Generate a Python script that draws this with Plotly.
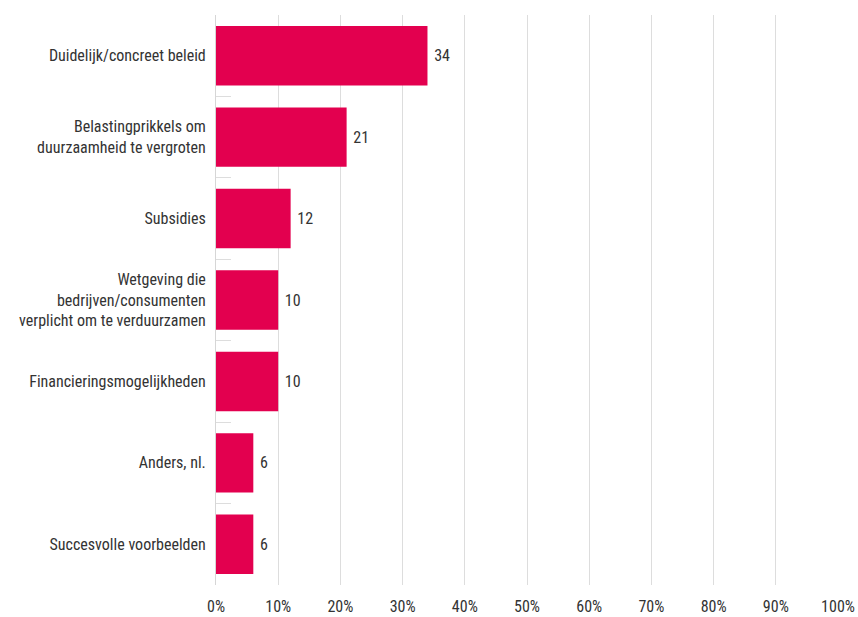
import plotly.graph_objects as go

categories = [
    "Duidelijk/concreet beleid",
    "Belastingprikkels om<br>duurzaamheid te vergroten",
    "Subsidies",
    "Wetgeving die<br>bedrijven/consumenten<br>verplicht om te verduurzamen",
    "Financieringsmogelijkheden",
    "Anders, nl.",
    "Succesvolle voorbeelden",
]
values = [34, 21, 12, 10, 10, 6, 6]
tick_vals = [0, 10, 20, 30, 40, 50, 60, 70, 80, 90, 100]
tick_text = [f"{v}%" for v in tick_vals]

font_family = "Liberation Sans Narrow, Roboto Condensed, Arial Narrow, sans-serif"

fig = go.Figure(go.Bar(
    x=values,
    y=categories,
    orientation="h",
    marker=dict(color="#E3004F", line=dict(width=0)),
    text=[str(v) for v in values],
    texttemplate=" %{text}",
    textposition="outside",
    textfont=dict(size=16, color="#333333", family=font_family),
    cliponaxis=False,
))

fig.update_layout(
    width=858, height=617,
    margin=dict(l=216, r=20, t=15, b=32),
    paper_bgcolor="white", plot_bgcolor="white",
    bargap=0.27,
    showlegend=False,
    font=dict(family=font_family, size=16, color="#333333"),
)
fig.update_xaxes(
    range=[0, 100], tickvals=tick_vals, ticktext=tick_text,
    showgrid=True, gridcolor="#dddddd", gridwidth=1,
    zeroline=False, showline=False, ticks="",
    tickfont=dict(size=16, color="#333333"),
    ticklabelstandoff=10,
    automargin=False,
)
fig.update_yaxes(
    autorange="reversed",
    showline=True, linecolor="#d6d6d6", linewidth=1,
    ticks="inside", tickson="boundaries", ticklen=15, tickcolor="#dddddd",
    showgrid=False,
    tickfont=dict(size=16, color="#333333"),
    ticklabelstandoff=6,
    automargin=False,
)

fig.write_html(
    "out.html",
    config={"displayModeBar": False},
    post_script="document.body.style.margin='0';document.body.style.overflow='hidden';",
)
